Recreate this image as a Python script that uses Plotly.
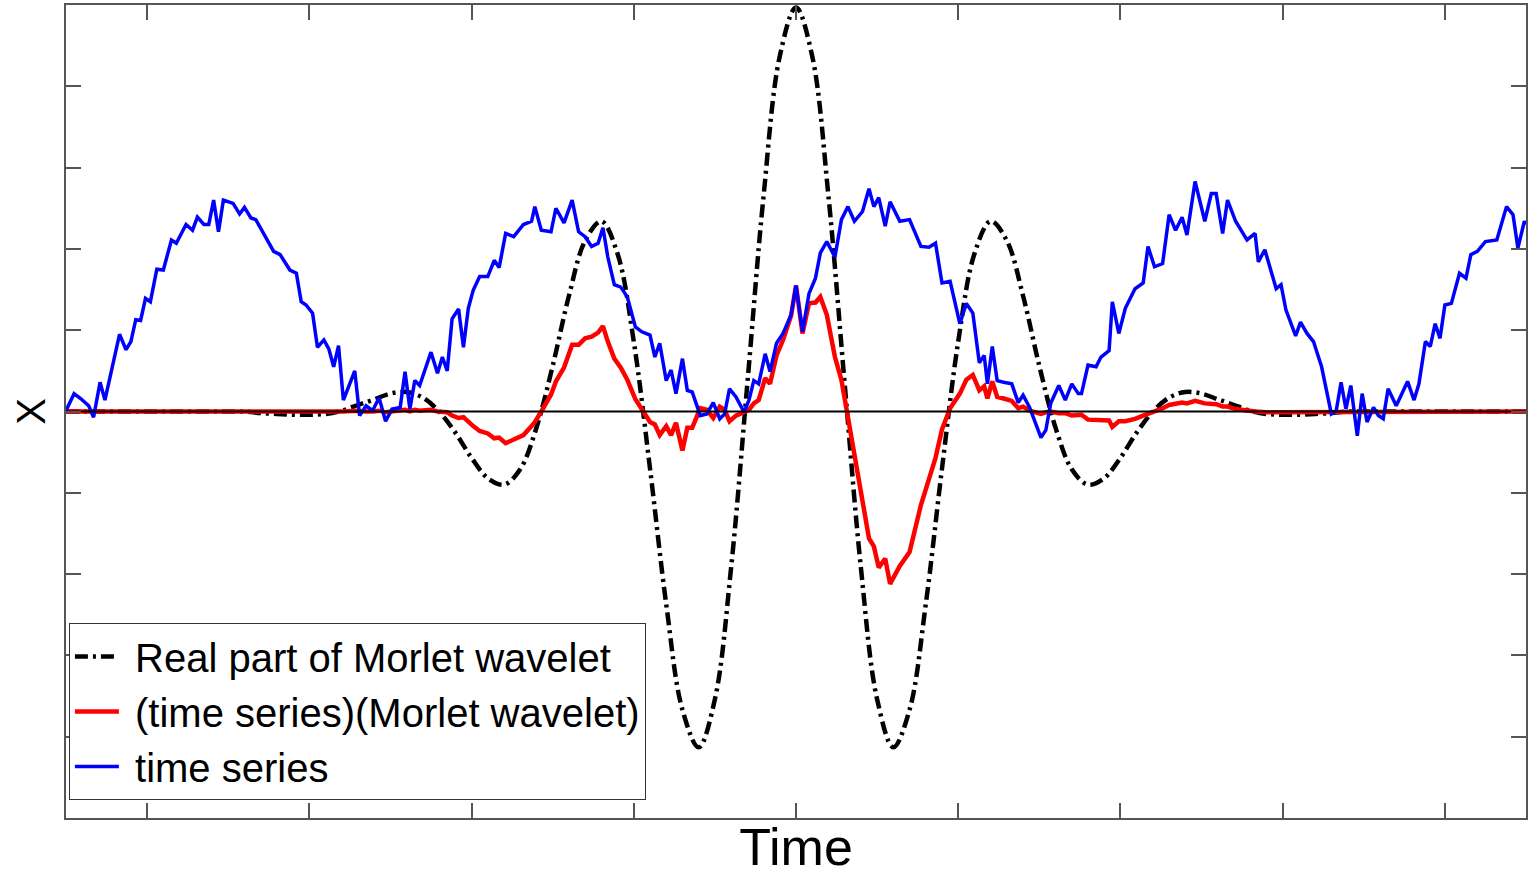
import numpy as np
import plotly.graph_objects as go

# ---------------- data ----------------
# time series (blue), irregular sampling
blue_t = [-4.50, -4.45, -4.41, -4.36, -4.33, -4.29, -4.26, -4.23, -4.17, -4.13, -4.10, -4.07, -4.04,
          -4.01, -3.98, -3.94, -3.90, -3.85, -3.82, -3.76, -3.72, -3.69, -3.65, -3.62, -3.59, -3.56,
          -3.53, -3.47, -3.43, -3.40, -3.36, -3.33, -3.28, -3.22, -3.18, -3.12, -3.08, -3.05, -3.02,
          -2.98, -2.95, -2.91, -2.88, -2.85, -2.82, -2.79, -2.72, -2.69, -2.65, -2.61, -2.57, -2.53,
          -2.49, -2.44, -2.41, -2.38, -2.35, -2.32, -2.25, -2.21, -2.18, -2.15, -2.12, -2.08, -2.05,
          -2.02, -1.99, -1.95, -1.90, -1.86, -1.83, -1.79, -1.74, -1.68, -1.63, -1.61, -1.57, -1.51,
          -1.48, -1.43, -1.38, -1.34, -1.30, -1.26, -1.22, -1.19, -1.16, -1.12, -1.08, -1.04, -0.99,
          -0.95, -0.90, -0.87, -0.84, -0.80, -0.77, -0.74, -0.70, -0.67, -0.64, -0.59, -0.55, -0.51,
          -0.47, -0.44, -0.41, -0.37, -0.32, -0.29, -0.26, -0.23, -0.19, -0.16, -0.12, -0.08, -0.03,
          0.00, 0.04, 0.08, 0.12, 0.15, 0.19, 0.24, 0.28, 0.32, 0.36, 0.41, 0.45, 0.48, 0.51, 0.55,
          0.58, 0.64, 0.70, 0.77, 0.82, 0.86, 0.90, 0.95, 1.01, 1.05, 1.09, 1.13, 1.16, 1.18, 1.21,
          1.24, 1.28, 1.33, 1.37, 1.40, 1.44, 1.51, 1.54, 1.57, 1.62, 1.66, 1.70, 1.74, 1.76, 1.80,
          1.85, 1.88, 1.93, 1.95, 1.99, 2.03, 2.09, 2.14, 2.17, 2.21, 2.26, 2.30, 2.34, 2.38, 2.41,
          2.46, 2.52, 2.56, 2.59, 2.63, 2.66, 2.71, 2.78, 2.83, 2.85, 2.89, 2.96, 2.99, 3.02, 3.08,
          3.11, 3.15, 3.19, 3.24, 3.30, 3.33, 3.36, 3.39, 3.42, 3.46, 3.49, 3.52, 3.56, 3.59, 3.62,
          3.65, 3.70, 3.77, 3.81, 3.84, 3.88, 3.91, 3.94, 3.97, 4.00, 4.04, 4.09, 4.13, 4.16, 4.20,
          4.25, 4.32, 4.38, 4.42, 4.45, 4.49, 4.50]
blue_v = [0.01, 0.22, 0.16, 0.07, -0.07, 0.36, 0.14, 0.42, 0.95, 0.76, 0.86, 1.13, 1.12,
          1.39, 1.35, 1.75, 1.74, 2.11, 2.07, 2.30, 2.23, 2.39, 2.30, 2.30, 2.60, 2.21,
          2.60, 2.56, 2.43, 2.51, 2.38, 2.36, 2.19, 1.97, 1.93, 1.74, 1.70, 1.35, 1.31,
          1.21, 0.79, 0.88, 0.77, 0.55, 0.81, 0.14, 0.50, -0.05, 0.07, 0.01, 0.17, -0.12,
          0.03, 0.05, 0.49, 0.03, 0.38, 0.32, 0.73, 0.47, 0.67, 0.50, 1.14, 1.26, 0.79,
          1.27, 1.49, 1.66, 1.66, 1.86, 1.77, 2.19, 2.15, 2.30, 2.34, 2.52, 2.23, 2.21,
          2.50, 2.32, 2.60, 2.21, 2.15, 2.03, 2.07, 2.26, 1.90, 1.56, 1.53, 1.41, 1.04,
          0.98, 0.94, 0.67, 0.84, 0.38, 0.51, 0.22, 0.65, 0.26, 0.24, -0.05, -0.03, 0.11,
          -0.09, -0.03, 0.28, 0.18, -0.01, 0.14, 0.38, 0.34, 0.71, 0.49, 0.84, 0.96, 1.19,
          1.55, 0.98, 1.45, 1.64, 1.95, 2.09, 1.90, 2.36, 2.52, 2.34, 2.46, 2.74, 2.52, 2.63, 2.28,
          2.58, 2.34, 2.36, 2.03, 2.02, 2.07, 1.58, 1.60, 1.08, 1.33, 1.21, 0.60, 0.69, 0.34, 0.80,
          0.38, 0.36, 0.34, 0.11, 0.20, 0.05, -0.32, -0.23, 0.10, 0.32, 0.14, 0.34, 0.22, 0.22, 0.57,
          0.55, 0.67, 0.75, 1.35, 0.96, 1.27, 1.51, 1.58, 2.03, 1.78, 1.82, 2.42, 2.23, 2.39, 2.17,
          2.83, 2.34, 2.68, 2.68, 2.19, 2.60, 2.34, 2.11, 2.19, 1.84, 1.99, 1.51, 1.56, 1.25, 0.93,
          1.10, 0.96, 0.86, 0.55, -0.03, 0.01, 0.36, 0.03, 0.32, -0.30, 0.22, -0.13, 0.05, -0.05, -0.09,
          0.28, 0.07, 0.37, 0.14, 0.34, 0.86, 0.80, 1.08, 0.90, 1.31, 1.33, 1.70, 1.64, 1.93, 1.97,
          2.09, 2.11, 2.52, 2.42, 2.01, 2.34, 2.30]

# real part of Morlet wavelet (black dash-dot), sampled every 0.1 time units from -4.5 to 4.5
wave_t = np.linspace(-4.5, 4.5, 91)
wave_v = [0.00, 0.00, 0.00, 0.00, 0.00, 0.00, 0.00, 0.00, 0.00, 0.00,
          0.00, 0.00, -0.02, -0.03, -0.04, -0.04, -0.03, 0.01, 0.08, 0.15,
          0.22, 0.24, 0.17, 0.00, -0.26, -0.57, -0.82, -0.90, -0.71, -0.20,
          0.56, 1.42, 2.10, 2.34, 1.94, 0.86, -0.70, -2.37, -3.67, -4.13,
          -3.54, -1.92, 0.34, 2.65, 4.37, 4.97, 4.37, 2.65, 0.34, -1.92,
          -3.54, -4.13, -3.67, -2.37, -0.70, 0.86, 1.94, 2.34, 2.10, 1.42,
          0.56, -0.20, -0.71, -0.90, -0.82, -0.57, -0.26, 0.00, 0.17, 0.24,
          0.22, 0.15, 0.08, 0.01, -0.03, -0.04, -0.04, -0.03, -0.02, 0.00,
          0.00, 0.00, 0.00, 0.00, 0.00, 0.00, 0.00, 0.00, 0.00, 0.00,
          0.00]

# (time series)(Morlet wavelet) product (red)
red_t = [-4.50, -4.00, -3.50, -3.20, -3.00, -2.90,
         -2.82, -2.79, -2.72, -2.69, -2.65, -2.61, -2.57, -2.53, -2.49, -2.44, -2.41, -2.38, -2.35,
         -2.32, -2.25, -2.21, -2.18, -2.15, -2.12, -2.08, -2.05, -2.02, -1.99, -1.95, -1.90, -1.86,
         -1.83, -1.79, -1.74, -1.68, -1.63, -1.61, -1.57, -1.51, -1.48, -1.43, -1.38, -1.34, -1.30,
         -1.26, -1.22, -1.19, -1.16, -1.12, -1.08, -1.04, -0.99, -0.95, -0.90, -0.87, -0.84, -0.80,
         -0.77, -0.74, -0.70, -0.67, -0.64, -0.59, -0.55, -0.51, -0.47, -0.44, -0.41, -0.37, -0.32,
         -0.29, -0.26, -0.23, -0.19, -0.16, -0.12, -0.08, -0.03, 0.00, 0.04, 0.08, 0.12, 0.15, 0.19,
         0.24, 0.28, 0.32, 0.36, 0.41, 0.45, 0.48, 0.51, 0.55, 0.58, 0.64, 0.70, 0.77, 0.82, 0.86,
         0.90, 0.95, 1.01, 1.05, 1.09, 1.13, 1.16, 1.18, 1.21, 1.24, 1.28, 1.33, 1.37, 1.40, 1.44,
         1.51, 1.54, 1.57, 1.62, 1.66, 1.70, 1.74, 1.76, 1.80, 1.85, 1.88, 1.93, 1.95, 1.99, 2.03,
         2.09, 2.14, 2.17, 2.21, 2.26, 2.30, 2.34, 2.38, 2.41, 2.46, 2.52, 2.56, 2.59, 2.63, 2.66,
         2.71, 2.78, 2.83, 2.90, 3.00, 3.20, 3.50, 4.00, 4.50]
red_v = [0.00, 0.00, 0.00, -0.01, -0.01, -0.01,
         0.00, 0.00, 0.01, 0.00, 0.00, 0.00, 0.01, -0.01, 0.00, 0.00, 0.02, 0.00, 0.02,
         0.01, 0.02, 0.00, -0.01, -0.01, -0.05, -0.08, -0.07, -0.13, -0.18, -0.24, -0.27, -0.33,
         -0.32, -0.39, -0.35, -0.29, -0.18, -0.13, 0.00, 0.21, 0.37, 0.54, 0.82, 0.82, 0.90,
         0.92, 0.97, 1.05, 0.86, 0.65, 0.54, 0.39, 0.15, 0.02, -0.13, -0.16, -0.29, -0.18,
         -0.29, -0.14, -0.48, -0.20, -0.20, 0.04, 0.02, -0.08, 0.06, 0.02, -0.12, -0.05, 0.00,
         0.02, 0.10, 0.14, 0.41, 0.34, 0.69, 0.88, 1.18, 1.55, 0.96, 1.33, 1.34, 1.41, 1.19,
         0.67, 0.39, -0.07, -0.50, -1.04, -1.56, -1.66, -1.92, -1.81, -2.12, -1.90, -1.73, -1.15, -0.83, -0.57,
         -0.22, 0.04, 0.22, 0.39, 0.45, 0.26, 0.31, 0.16, 0.37, 0.18, 0.16, 0.13, 0.04, 0.06, 0.01,
         -0.03, -0.01, 0.00, -0.02, -0.02, -0.05, -0.04, -0.04, -0.10, -0.10, -0.11, -0.11, -0.19, -0.12, -0.12,
         -0.09, -0.05, -0.03, 0.01, 0.04, 0.08, 0.09, 0.11, 0.10, 0.13, 0.10, 0.10, 0.09, 0.06, 0.06,
         0.03, 0.01, 0.00, -0.01, -0.01, -0.01, 0.00, 0.00, 0.00]

zero_t = [-4.5, 4.5]
zero_v = [0, 0]

legend_names = ["Real part of Morlet wavelet", "(time series)(Morlet wavelet)", "time series"]

# ---------------- figure ----------------
fig = go.Figure()
fig.add_trace(go.Scatter(x=wave_t, y=wave_v, mode="lines", name="\u00a0" + legend_names[0],
                         line=dict(color="black", width=4.5, dash="13px,5px,3px,5px", shape="spline")))
fig.add_trace(go.Scatter(x=red_t, y=red_v, mode="lines", name="\u00a0" + legend_names[1],
                         line=dict(color="#ff0000", width=4.5)))
fig.add_trace(go.Scatter(x=blue_t, y=blue_v, mode="lines", name="\u00a0" + legend_names[2],
                         line=dict(color="#0000ff", width=3.5)))
fig.add_trace(go.Scatter(x=zero_t, y=zero_v, mode="lines", showlegend=False,
                         line=dict(color="black", width=2)))

axis_common = dict(showgrid=False, zeroline=False, showticklabels=False,
                   ticks="inside", ticklen=15, tickwidth=1.5, tickcolor="#555555",
                   showline=True, linecolor="#555555", linewidth=1.5, mirror="ticks")

fig.update_layout(
    width=1528, height=876,
    margin=dict(l=66, r=0, t=5, b=58),
    paper_bgcolor="white", plot_bgcolor="white",
    font=dict(family="Liberation Sans, Arial, sans-serif", color="black"),
    xaxis=dict(range=[-4.5, 4.5], tick0=0, dtick=1,
               title=dict(text="Time", font=dict(size=52), standoff=12), **axis_common),
    yaxis=dict(range=[-5, 5], tick0=0, dtick=1,
               title=dict(text="X", font=dict(size=40), standoff=6), **axis_common),
    legend=dict(x=0.002, y=0.022, xanchor="left", yanchor="bottom",
                bgcolor="white", bordercolor="#333333", borderwidth=1,
                font=dict(family="Liberation Sans, Arial", size=40),
                itemwidth=44, tracegroupgap=0),
    showlegend=True,
)

fig.write_html("out.html")
